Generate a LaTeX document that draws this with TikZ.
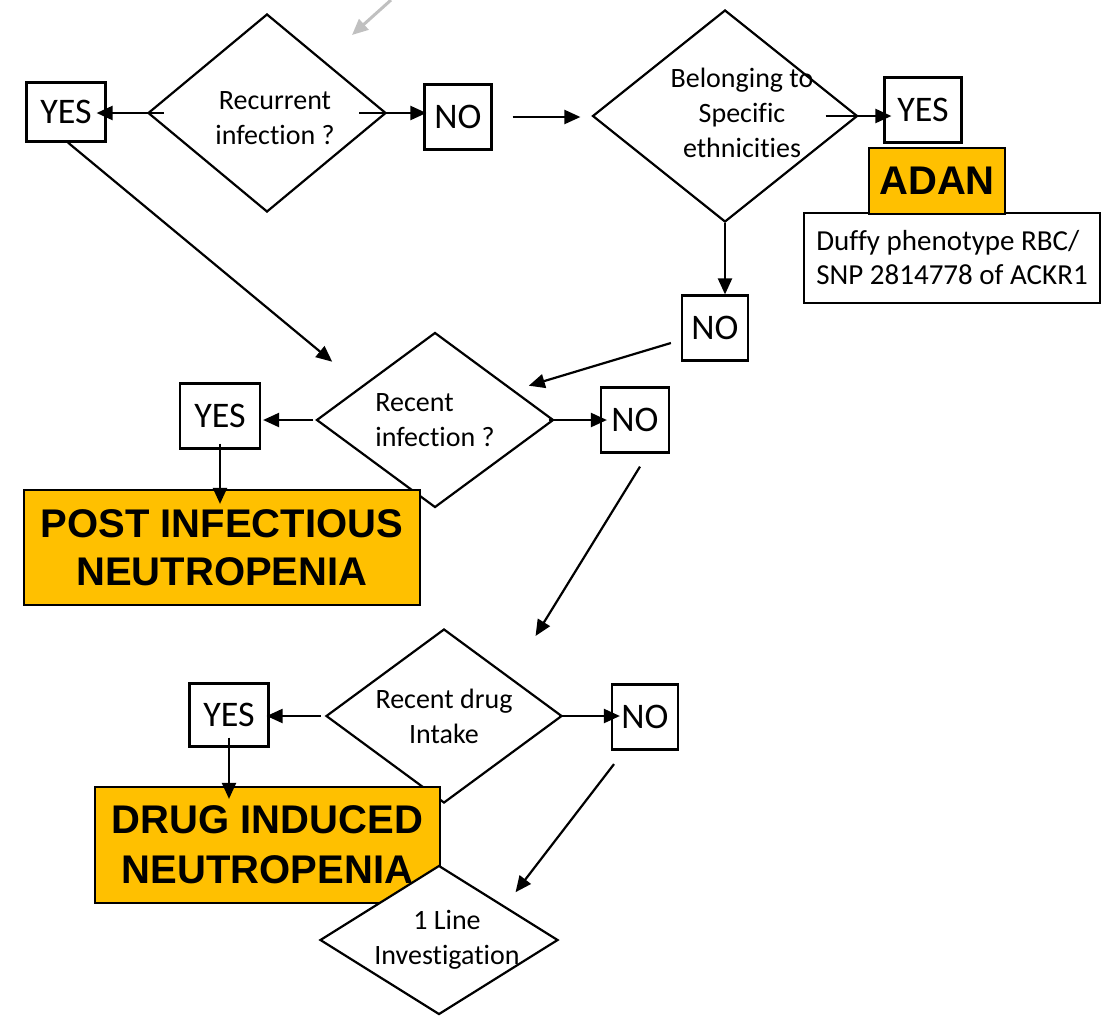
\documentclass[tikz,border=0pt]{standalone}
\usepackage{fontspec}
\setmainfont{Carlito}[Ligatures=NoCommon]
\setsansfont{Liberation Sans}
\usetikzlibrary{positioning,shapes.geometric,arrows.meta}
\definecolor{gold}{HTML}{FFC000}
\definecolor{glint}{HTML}{C0C0C0}

\tikzset{
  decision/.style={diamond,draw,line width=1.1pt,fill=white,inner sep=0pt},
  ask/.style={font=\fontsize{14}{17.5}\selectfont,align=center,inner sep=0pt},
  answer/.style={rectangle,draw,line width=1.1pt,fill=white,inner sep=0pt,font=\fontsize{18}{22}\selectfont},
  verdict/.style={rectangle,draw,line width=1.1pt,fill=gold,inner sep=0pt,align=center,font=\sffamily\bfseries\fontsize{20}{24}\selectfont},
  flow/.style={-{Triangle[length=8pt,width=7pt]},line width=1.1pt},
}

\begin{document}
\begin{tikzpicture}[x=0.5pt,y=-0.5pt]
        \useasboundingbox (0,0) rectangle (1102,1023);
        % questions
        \node[decision,minimum width=119pt,minimum height=99pt,label={[ask,xshift=4pt,yshift=-2.5pt]center:Recurrent\\infection ?}] (recur) at (267,113) {};
        \node[decision,minimum width=132.5pt,minimum height=106pt,label={[ask,xshift=8.5pt,yshift=1.5pt]center:Belonging to\\Specific\\ethnicities}] (ethnic) at (725,116) {};
        \node[decision,minimum width=118.5pt,minimum height=87.5pt,label={[ask,align=left]center:Recent\\infection ?}] (infect) at (435,420) {};
        \node[decision,minimum width=118pt,minimum height=87pt,label={[ask]center:Recent drug\\Intake}] (drug) at (444,716) {};
        % answers
        \node[answer,minimum width=39.5pt,minimum height=29.5pt] (yes1) at (66,112) {YES};
        \node[answer,minimum width=33.5pt,minimum height=32.5pt] (no1) at (458,117) {NO};
        \node[answer,minimum width=38.5pt,minimum height=32.5pt] (yes2) at (923,110) {YES};
        \node[answer,minimum width=33pt,minimum height=32.5pt] (no2) at (715,328) {NO};
        \node[answer,minimum width=40pt,minimum height=32.5pt] (yes3) at (220,416) {YES};
        \node[answer,minimum width=34pt,minimum height=32.5pt] (no3) at (635,420) {NO};
        \node[answer,minimum width=39.5pt,minimum height=31.5pt] (yes4) at (229,715) {YES};
        \node[answer,minimum width=33pt,minimum height=32.5pt] (no4) at (645,717) {NO};
        % outcomes
        \node[rectangle,draw,line width=1.1pt,fill=white,inner sep=0pt,align=left,minimum width=148pt,minimum height=45pt,font=\fontsize{14.5}{17}\selectfont] (duffy) at (952,258) {Duffy phenotype RBC/\\SNP 2814778 of ACKR1};
        \node[verdict,minimum width=68pt,minimum height=33pt] (adan) at (937,181) {ADAN};
        \node[verdict,minimum width=198pt,minimum height=57.5pt] (post) at (222,547.5) {POST INFECTIOUS\\NEUTROPENIA};
        \node[verdict,minimum width=172.5pt,minimum height=58pt,font=\sffamily\bfseries\fontsize{20}{25}\selectfont] (drugbox) at (267.5,845) {DRUG INDUCED\\NEUTROPENIA};
        \node[decision,minimum width=119pt,minimum height=74.5pt,label={[ask,xshift=4pt]center:1 Line\\Investigation}] (invest) at (439,940) {};
        % connectors
        \coordinate (gtail) at (391,0);
        \coordinate (gtip) at (352,35);
        \draw[flow,glint,line width=1.5pt] (gtail) -- (gtip);
        \draw[flow,shorten <=-8.5pt,shorten >=-5pt] (recur.west) -- (yes1.east |- recur.west);
        \draw[flow,shorten <=-14pt,shorten >=-1.5pt] (recur.east) -- (no1.west |- recur.east);
        \draw[flow,shorten <=10pt,shorten >=5.5pt] (no1.east) -- (ethnic.west |- no1.east);
        \draw[flow,shorten <=-16.5pt,shorten >=-4pt] (ethnic.east) -- (yes2.west |- ethnic.east);
        \draw[flow] (ethnic.south) -- (ethnic.south |- no2.north);
        \draw[flow] ([xshift=-5pt,yshift=-7.5pt]no2.west) -- ([xshift=17pt,yshift=-5pt]infect.north east);
        \draw[flow] ([xshift=1pt]yes1.south) -- ([xshift=-21.5pt,yshift=7pt]infect.north west);
        \draw[flow,shorten <=1pt,shorten >=1pt] (infect.west) -- (yes3.east |- infect.west);
        \draw[flow,shorten <=-3pt,shorten >=-3.5pt] (infect.east) -- (no3.west |- infect.east);
        \draw[flow,shorten <=-3pt,shorten >=-7.5pt] (yes3.south) -- (yes3.south |- post.north);
        \draw[flow] ([xshift=2.5pt,yshift=-6.5pt]no3.south) -- ([xshift=16pt,yshift=18pt]drug.north east);
        \draw[flow,shorten <=2pt,shorten >=-1.5pt] (drug.west) -- (yes4.east |- drug.west);
        \draw[flow,shorten <=-2pt,shorten >=-4.5pt] (drug.east) -- (no4.west |- drug.east);
        \draw[flow,shorten <=-5pt,shorten >=-6.5pt] (yes4.south) -- (yes4.south |- drugbox.north);
        \draw[flow] ([xshift=-15.5pt,yshift=-6.75pt]no4.south) -- ([xshift=8.25pt,yshift=5pt]invest.north east);
\end{tikzpicture}
\end{document}
